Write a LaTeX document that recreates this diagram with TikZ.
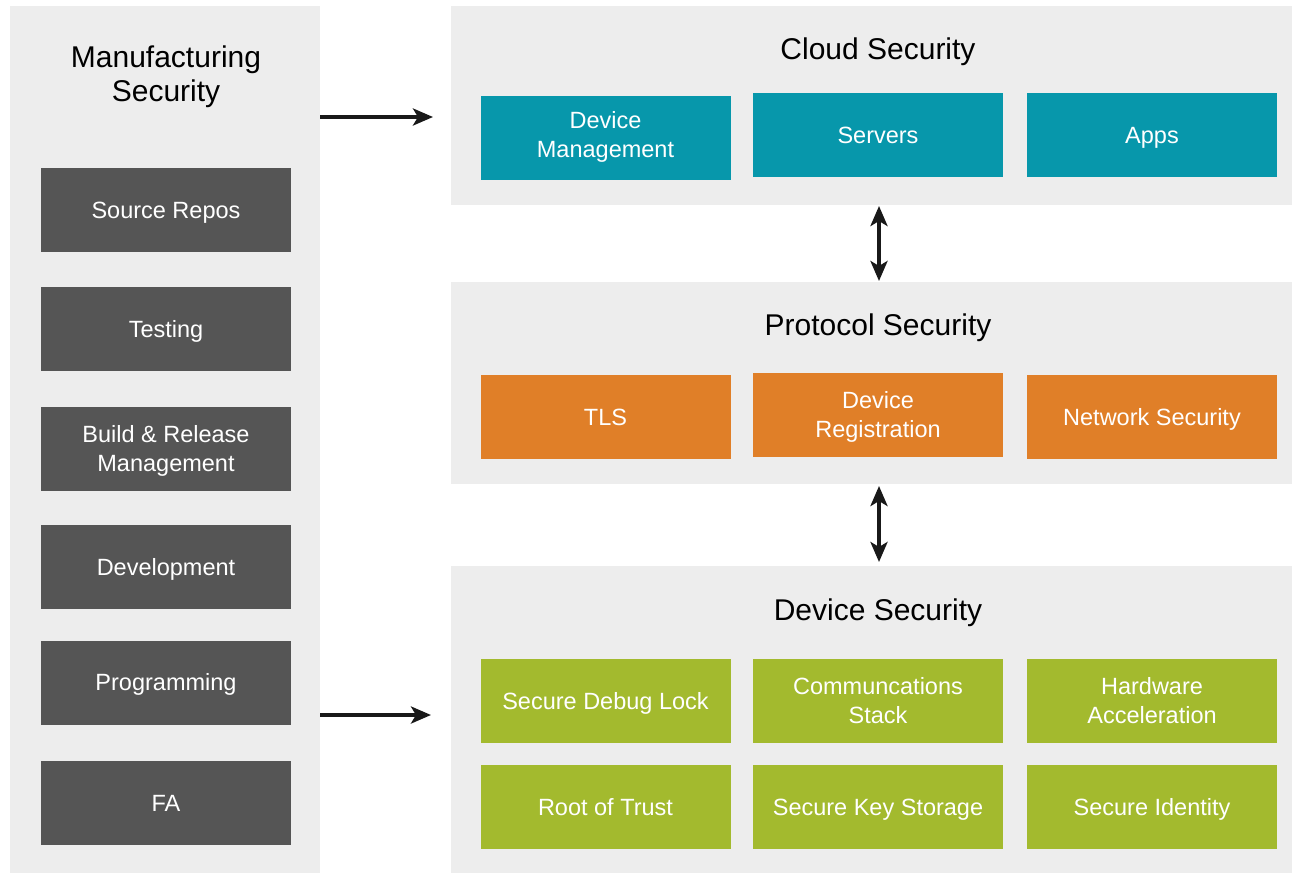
\documentclass[tikz,border=0pt]{standalone}
\usepackage{fontspec}
\setmainfont{Liberation Sans}
\usetikzlibrary{arrows.meta,calc}
\definecolor{panelgray}{HTML}{EDEDED}
\definecolor{darkbox}{HTML}{555555}
\definecolor{tealbox}{HTML}{0797AB}
\definecolor{orangebox}{HTML}{E07F28}
\definecolor{greenbox}{HTML}{A3BA2E}
\newcommand\cs{\rule[-0.2em]{0pt}{1.12em}}
\newcommand\csd{\rule[-\dimexpr0.2em+7pt\relax]{0pt}{\dimexpr1.12em+7pt\relax}}
\tikzset{
  panel/.style={rectangle, fill=panelgray, draw=none, inner sep=0pt},
  cell/.style={rectangle, draw=none, minimum width=250pt, minimum height=84pt, inner sep=0pt,
    text=white, align=center, font=\fontsize{23.5}{29}\selectfont},
  mfgbox/.style={cell, fill=darkbox},
  cloudbox/.style={cell, fill=tealbox},
  protobox/.style={cell, fill=orangebox},
  devbox/.style={cell, fill=greenbox},
  title/.style={align=center, text=black, inner sep=0pt, font=\fontsize{30}{34}\selectfont},
  tip/.tip={Stealth[length=20pt,width=17pt,inset=5pt]},
  arr/.style={line width=4pt, draw=black!90, -tip},
  darr/.style={line width=4pt, draw=black!90, tip-tip}
}
\begin{document}
\begin{tikzpicture}[x=1pt,y=-1pt]
\useasboundingbox (0,0) rectangle (1292,876);
\fill[white] (0,0) rectangle (1292,876);
% panels
\node[panel, minimum width=310pt, minimum height=867pt] (mfg) at (165,439.5) {};
\node[panel, minimum width=841pt, minimum height=199pt] (cloud) at (871.5,105.5) {};
\node[panel, minimum width=841pt, minimum height=202pt] (proto) at (871.5,383) {};
\node[panel, minimum width=841pt, minimum height=307pt] (dev) at (871.5,719.5) {};
% titles
\node[title] (mfgt) at (166,74) {\cs Manufacturing\\\cs Security};
\node[title] (cloudt) at (878,49) {\cs Cloud Security};
\node[title] (protot) at (878,325) {\cs Protocol Security};
\node[title] (devt) at (878,610) {\cs Device Security};
% manufacturing boxes
\node[mfgbox] (src) at (166,210) {\cs Source Repos};
\node[mfgbox] (test) at (166,329) {\cs Testing};
\node[mfgbox] (build) at (166,449) {\cs Build \& Release\\\cs Management};
\node[mfgbox] (devel) at (166,567) {\cs Development};
\node[mfgbox] (prog) at (166,682.5) {\cs Programming};
\node[mfgbox] (fa) at (166,803) {\cs FA};
% cloud boxes
\node[cloudbox] (dm) at (605.5,138) {\cs Device\\\csd Management};
\node[cloudbox] (srv) at (878,135) {\cs Servers};
\node[cloudbox] (apps) at (1152,135) {\cs Apps};
% protocol boxes
\node[protobox] (tls) at (605.5,417) {\cs TLS};
\node[protobox] (reg) at (878,415) {\cs Device\\\cs Registration};
\node[protobox] (net) at (1152,417) {\cs Network Security};
% device boxes
\node[devbox] (dbg) at (605.5,701) {\cs Secure Debug Lock};
\node[devbox] (comm) at (878,701) {\cs Communcations\\\cs Stack};
\node[devbox] (hw) at (1152,701) {\cs Hardware\\\cs Acceleration};
\node[devbox] (rot) at (605.5,807) {\cs Root of Trust};
\node[devbox] (key) at (878,807) {\cs Secure Key Storage};
\node[devbox] (ident) at (1152,807) {\cs Secure Identity};
% connectors
\coordinate (a1s) at (mfg.east |- 0,117);
\coordinate (a1e) at (433,117);
\coordinate (a2s) at (mfg.east |- 0,715);
\coordinate (a2e) at (431,715);
\draw[arr] (a1s) -- (a1e);
\draw[arr] (a2s) -- (a2e);
\coordinate (v1s) at (879,206);
\coordinate (v1e) at (879,281);
\coordinate (v2s) at (879,486);
\coordinate (v2e) at (879,562);
\draw[darr] (v1s) -- (v1e);
\draw[darr] (v2s) -- (v2e);
\end{tikzpicture}
\end{document}
